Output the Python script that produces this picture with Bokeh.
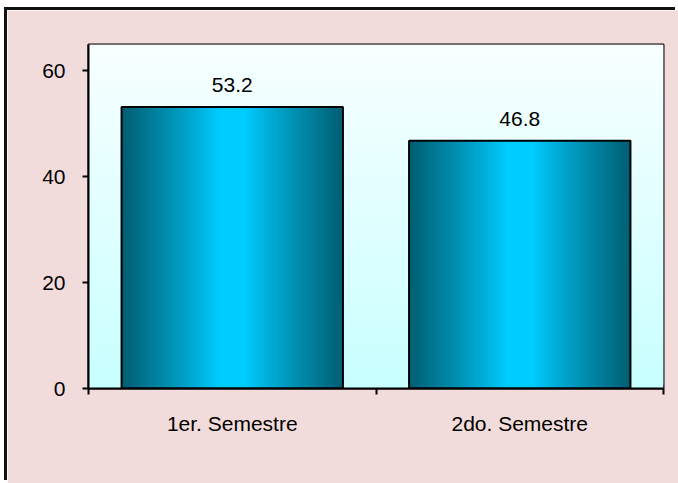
from bokeh.plotting import figure
from bokeh.models import FixedTicker, ColumnDataSource, LabelSet, Range1d
from bokeh.core.properties import value
from bokeh.embed import file_html
from bokeh.resources import INLINE

# ---- data ----
categories = ["1er. Semestre", "2do. Semestre"]
values = [53.2, 46.8]
labels = ["53.2", "46.8"]
y_ticks = [0, 20, 40, 60]

# ---- style ----
PINK = "#F2DCDB"
FONT = "Liberation Sans"
FS = "21px"
BAR_W = 0.77

def lerp(c1, c2, t):
    return "#%02x%02x%02x" % tuple(int(round(a + (b - a) * t)) for a, b in zip(c1, c2))

n = len(categories)
p = figure(width=671, height=473, output_backend="svg", toolbar_location=None,
           x_range=Range1d(0, n), y_range=Range1d(0, 65),
           min_border_left=81, min_border_right=15, min_border_top=34, min_border_bottom=95)
p.border_fill_color = PINK
p.background_fill_color = "#F7FFFF"
p.outline_line_color = "black"
p.outline_line_width = 2
p.grid.visible = False
p.styles = {"margin-left": "7px", "margin-top": "10px",
            "box-shadow": "-3px -3px 0 0 #111111"}

# vertical gradient background of the plot area
top_c = (0xF8, 0xFF, 0xFF)
bot_c = (0xC8, 0xFF, 0xFF)
nb = 86
ystart, yend = p.y_range.start, p.y_range.end
step = (yend - ystart) / nb
bg = dict(left=[], right=[], bottom=[], top=[], color=[])
for i in range(nb):
    b = ystart + step * i
    bg["left"].append(0); bg["right"].append(n)
    bg["bottom"].append(b); bg["top"].append(min(b + 2 * step, yend))
    bg["color"].append(lerp(bot_c, top_c, (i + 0.5) / nb))
p.quad(left="left", right="right", bottom="bottom", top="top", fill_color="color",
       line_color=None, source=ColumnDataSource(bg))

# bars with horizontal gradient
dark = (0x00, 0x5E, 0x72)
bright = (0x00, 0xCC, 0xFF)
ns = 111
centers = [i + 0.5 for i in range(n)]
st = dict(left=[], right=[], bottom=[], top=[], color=[])
for c, v in zip(centers, values):
    l0 = c - BAR_W / 2
    w = BAR_W / ns
    for k in range(ns):
        a = l0 + w * k
        b = min(l0 + w * (k + 2), l0 + BAR_W)
        d = abs((k + 0.5) / ns - 0.5) * 2
        f = min(max((d - 0.12) / 0.88, 0), 1) ** 0.9
        st["left"].append(a); st["right"].append(b)
        st["bottom"].append(0); st["top"].append(v)
        st["color"].append(lerp(bright, dark, f))
p.quad(left="left", right="right", bottom="bottom", top="top", fill_color="color",
       line_color=None, source=ColumnDataSource(st))
src = ColumnDataSource(dict(x=centers, top=values, lab=labels))
p.vbar(x="x", top="top", width=BAR_W, bottom=0, fill_color=None, line_color="black",
       line_width=2, source=src)

p.add_layout(LabelSet(x="x", y="top", text="lab", source=src, text_align="center",
                      text_baseline="alphabetic", y_offset=15, text_font=value(FONT),
                      text_font_size=value(FS), text_color="black"))

# axes
xa = p.xaxis[0]
xa.ticker = FixedTicker(ticks=centers, minor_ticks=list(range(n + 1)))
xa.major_label_overrides = {c: lab for c, lab in zip(centers, categories)}
xa.major_tick_line_color = None
xa.minor_tick_in = 0
xa.minor_tick_out = 6
xa.minor_tick_line_width = 2
xa.minor_tick_line_color = "black"
xa.axis_line_width = 2
xa.major_label_text_font = FONT
xa.major_label_text_font_size = FS
xa.major_label_text_color = "black"
xa.major_label_standoff = 17

ya = p.yaxis[0]
ya.ticker = FixedTicker(ticks=y_ticks)
ya.minor_tick_line_color = None
ya.major_tick_in = 0
ya.major_tick_out = 6
ya.major_tick_line_width = 2
ya.axis_line_width = 2
ya.major_label_text_font = FONT
ya.major_label_text_font_size = FS
ya.major_label_text_color = "black"
ya.major_label_standoff = 17

open("out.html", "w").write(file_html(p, INLINE))
